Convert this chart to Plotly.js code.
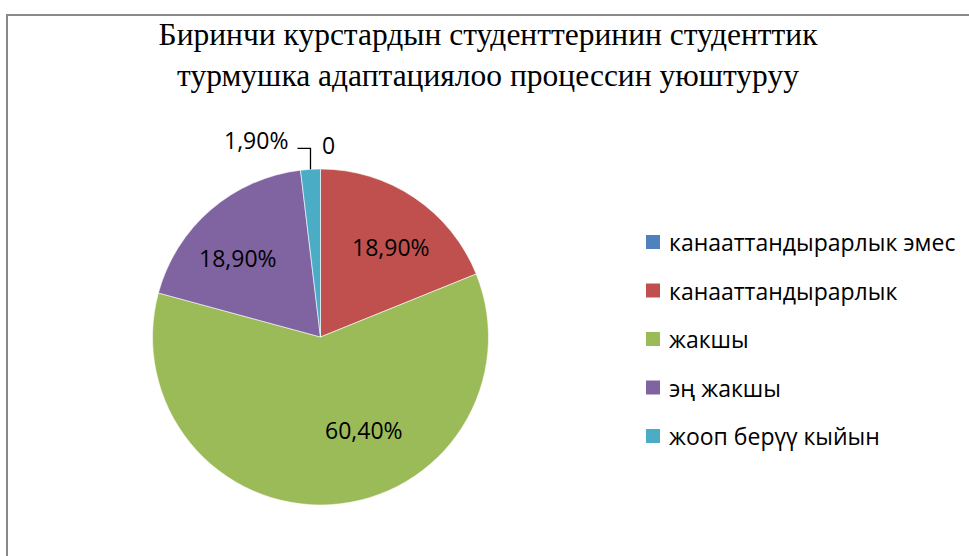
<!DOCTYPE html>
<html>
<head>
<meta charset="utf-8">
<script src="https://cdn.plot.ly/plotly-3.0.1.min.js"></script>
<style>
  html, body { margin: 0; padding: 0; background: #fff; overflow: hidden; }
  #chart { width: 969px; height: 556px; }
</style>
</head>
<body>
<div id="chart"></div>
<script>
// ---- data ----
const categories = ['канааттандырарлык эмес', 'канааттандырарлык', 'жакшы', 'эң жакшы', 'жооп берүү кыйын'];
const values = [0, 18.9, 60.4, 18.9, 1.9];
const colors = ['#4F81BD', '#C0504D', '#9BBB59', '#8064A2', '#4BACC6'];
const titleText = 'Биринчи курстардын студенттеринин студенттик<br>турмушка адаптациялоо процессин уюштуруу';

// ---- layout geometry (pixels) ----
const W = 969, H = 556;
const cx = 320.5, cy = 337, R = 168;
const px = x => x / W;
const py = y => 1 - y / H;
const labelFont = { family: 'Open Sans, Lato, sans-serif', size: 23, color: '#000' };

function fmt(v) {
  return v === 0 ? '0' : v.toFixed(2).replace('.', ',') + '%';
}

const total = values.reduce((a, b) => a + b, 0);
let cum = 0;
const mids = values.map(v => { const m = (cum + v / 2) / total * 360; cum += v; return m; });
function pt(angleDeg, r) {
  const a = angleDeg * Math.PI / 180;
  return [cx + r * Math.sin(a), cy - r * Math.cos(a)];
}

const annotations = [];
const shapes = [];

// frame
shapes.push({ type: 'rect', xref: 'paper', yref: 'paper', x0: px(7), x1: 1.05, y0: -0.05, y1: py(15),
  line: { color: '#898989', width: 2 }, fillcolor: 'rgba(0,0,0,0)' });

// slice labels: big slices inside, small slices outside with leader line
const insideNudge = [0, 4, -21.4, -5.7, 0];
const insideRad = [0, 0.68, 0.61, 0.68, 0];
values.forEach((v, i) => {
  const share = v / total;
  if (share >= 0.05) {
    const [x, y] = pt(mids[i] + insideNudge[i], insideRad[i] * R);
    annotations.push({ xref: 'paper', yref: 'paper', x: px(x), y: py(y), text: fmt(v),
      showarrow: false, font: labelFont, xanchor: 'center', yanchor: 'middle' });
  } else if (v === 0) {
    const [x, y] = pt(mids[i], R);
    annotations.push({ xref: 'paper', yref: 'paper', x: px(x + 8), y: py(y - 24), text: fmt(v),
      showarrow: false, font: labelFont, xanchor: 'center', yanchor: 'middle' });
  } else {
    const [x, y] = pt(mids[i], R);
    const yTop = y - 21, xEnd = x - 13;
    shapes.push({ type: 'path', xref: 'paper', yref: 'paper',
      path: `M ${px(x)} ${py(y)} L ${px(x)} ${py(yTop)} L ${px(xEnd)} ${py(yTop)}`,
      line: { color: '#000', width: 1.3 } });
    annotations.push({ xref: 'paper', yref: 'paper', x: px(xEnd - 7), y: py(yTop - 8), text: fmt(v),
      showarrow: false, font: labelFont, xanchor: 'right', yanchor: 'middle' });
  }
});

// legend (drawn manually for exact spacing)
const legX = 646, legY0 = 242, legGap = 48.5, sq = 14;
categories.forEach((c, i) => {
  const yc = legY0 + i * legGap;
  shapes.push({ type: 'rect', xref: 'paper', yref: 'paper',
    x0: px(legX), x1: px(legX + sq), y0: py(yc + sq / 2), y1: py(yc - sq / 2),
    fillcolor: colors[i], line: { width: 0 } });
  annotations.push({ xref: 'paper', yref: 'paper', x: px(legX + sq + 7), y: py(yc), text: c,
    showarrow: false, font: labelFont, xanchor: 'left', yanchor: 'middle' });
});

const trace = {
  type: 'pie',
  labels: categories,
  values: values,
  sort: false,
  direction: 'clockwise',
  rotation: 0,
  textinfo: 'none',
  hoverinfo: 'label+percent',
  marker: { colors: colors, line: { color: '#ffffff', width: 0.6 } },
  domain: { x: [px(cx - R), px(cx + R)], y: [py(cy + R), py(cy - R)] },
  showlegend: false
};

const layout = {
  width: W, height: H,
  margin: { l: 0, r: 0, t: 0, b: 0 },
  paper_bgcolor: '#fff',
  showlegend: false,
  title: {
    text: titleText,
    font: { family: 'Liberation Serif, Times New Roman, serif', size: 31.5, color: '#000' },
    x: 488 / W, xanchor: 'center', xref: 'paper',
    y: 1 - 45 / H, yanchor: 'top', yref: 'container'
  },
  shapes: shapes,
  annotations: annotations
};

Plotly.newPlot('chart', [trace], layout, { staticPlot: true, displayModeBar: false });
</script>
</body>
</html>
